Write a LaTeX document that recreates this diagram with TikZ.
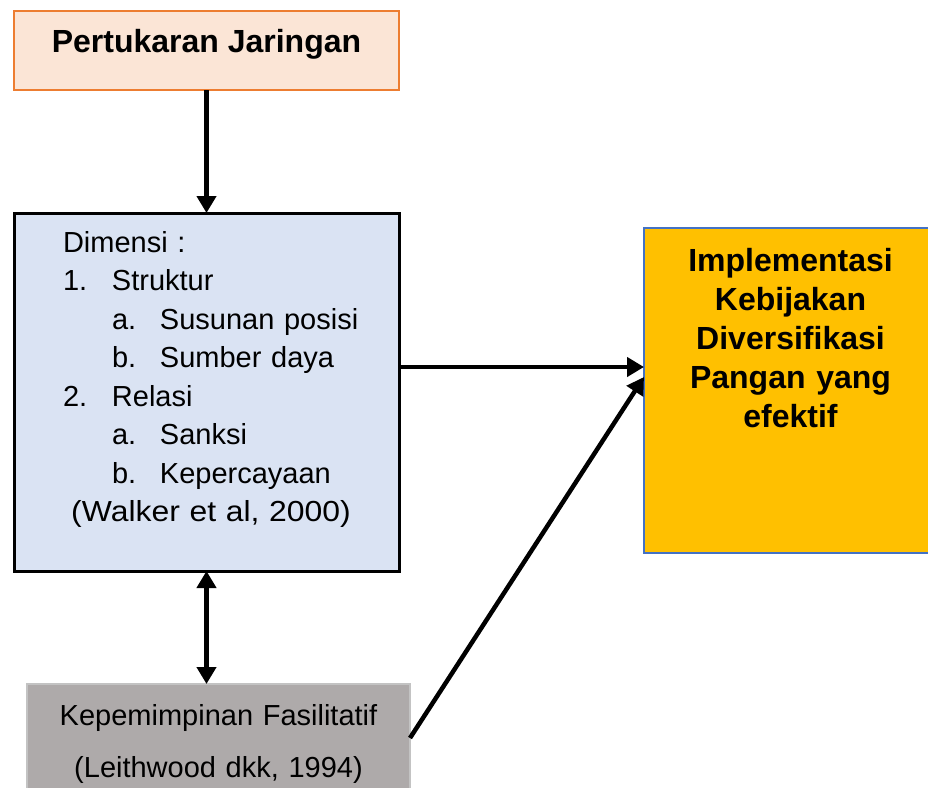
\documentclass[tikz,border=0pt]{standalone}
\usepackage{fontspec}
\setmainfont{Liberation Sans}
\newfontfamily\widesans{Liberation Sans}[FakeStretch=1.1]
\usetikzlibrary{arrows.meta}

\begin{document}
\begin{tikzpicture}[x=1pt,y=-1pt,
  flow/.style={line width=4.5pt,-{Triangle[length=17pt,width=19pt]}},
  box/.style={rectangle,inner sep=0pt,outer sep=0pt}]
\definecolor{networkFill}{HTML}{FBE5D6}
\definecolor{networkLine}{HTML}{ED7D31}
\definecolor{dimensionFill}{HTML}{DAE3F3}
\definecolor{policyFill}{HTML}{FFC000}
\definecolor{policyLine}{HTML}{4472C4}
\definecolor{leaderFill}{HTML}{AEAAAA}
\definecolor{leaderLine}{HTML}{C3C3C3}
\useasboundingbox (0,0) rectangle (928,787);
\clip (0,0) rectangle (928,787);
\node[box,fill=networkFill,draw=networkLine,line width=2.2pt,
  minimum width=385pt,minimum height=79pt,text height=23pt,text depth=20pt,
  font=\fontsize{32}{37}\selectfont\bfseries] (network) at (206.5,50.5) {Pertukaran Jaringan};
\node[box,fill=dimensionFill,draw=black,line width=3pt,
  minimum width=385pt,minimum height=358pt,text width=385pt,text height=39pt,text depth=319pt,
  align=left,font=\fontsize{29}{38.5}\selectfont] (dimension) at (206.5,392) {%
  \hspace*{49pt}Dimensi :\\
  \hspace*{49pt}\makebox[49pt][l]{1.}Struktur\\
  \hspace*{98pt}\makebox[48pt][l]{a.}Susunan posisi\\
  \hspace*{98pt}\makebox[48pt][l]{b.}Sumber daya\\
  \hspace*{49pt}\makebox[49pt][l]{2.}Relasi\\
  \hspace*{98pt}\makebox[48pt][l]{a.}Sanksi\\
  \hspace*{98pt}\makebox[48pt][l]{b.}Kepercayaan\\
  \makebox[385pt][c]{\hspace*{9pt}\widesans (Walker et al, 2000)}};
\node[box,fill=policyFill,draw=policyLine,line width=2pt,
  minimum width=293pt,minimum height=325pt,text width=293pt,text height=43pt,text depth=282pt,
  align=center,font=\fontsize{32}{39}\selectfont\bfseries] (policy) at (790.5,390.5)
  {Implementasi\\Kebijakan\\Diversifikasi\\Pangan yang\\efektif};
\node[box,fill=leaderFill,draw=leaderLine,line width=1.2pt,
  minimum width=383pt,minimum height=116pt,text width=383pt,text height=41pt,text depth=75pt,
  align=center,font=\fontsize{29}{52}\selectfont] (leader) at (218.5,742)
  {Kepemimpinan Fasilitatif\\(Leithwood dkk, 1994)};
\draw[flow] (network.south) -- (dimension.north);
\draw[flow] ([yshift=25pt]dimension.east) -- ([yshift=23.5pt]policy.west);
\draw[flow] ([yshift=4pt]leader.east) -- ([yshift=13.5pt]policy.west);
\draw[flow,{Triangle[length=17pt,width=19pt]}-{Triangle[length=17pt,width=19pt]}]
  (dimension.south) -- (dimension.south |- leader.north);
\end{tikzpicture}
\end{document}
